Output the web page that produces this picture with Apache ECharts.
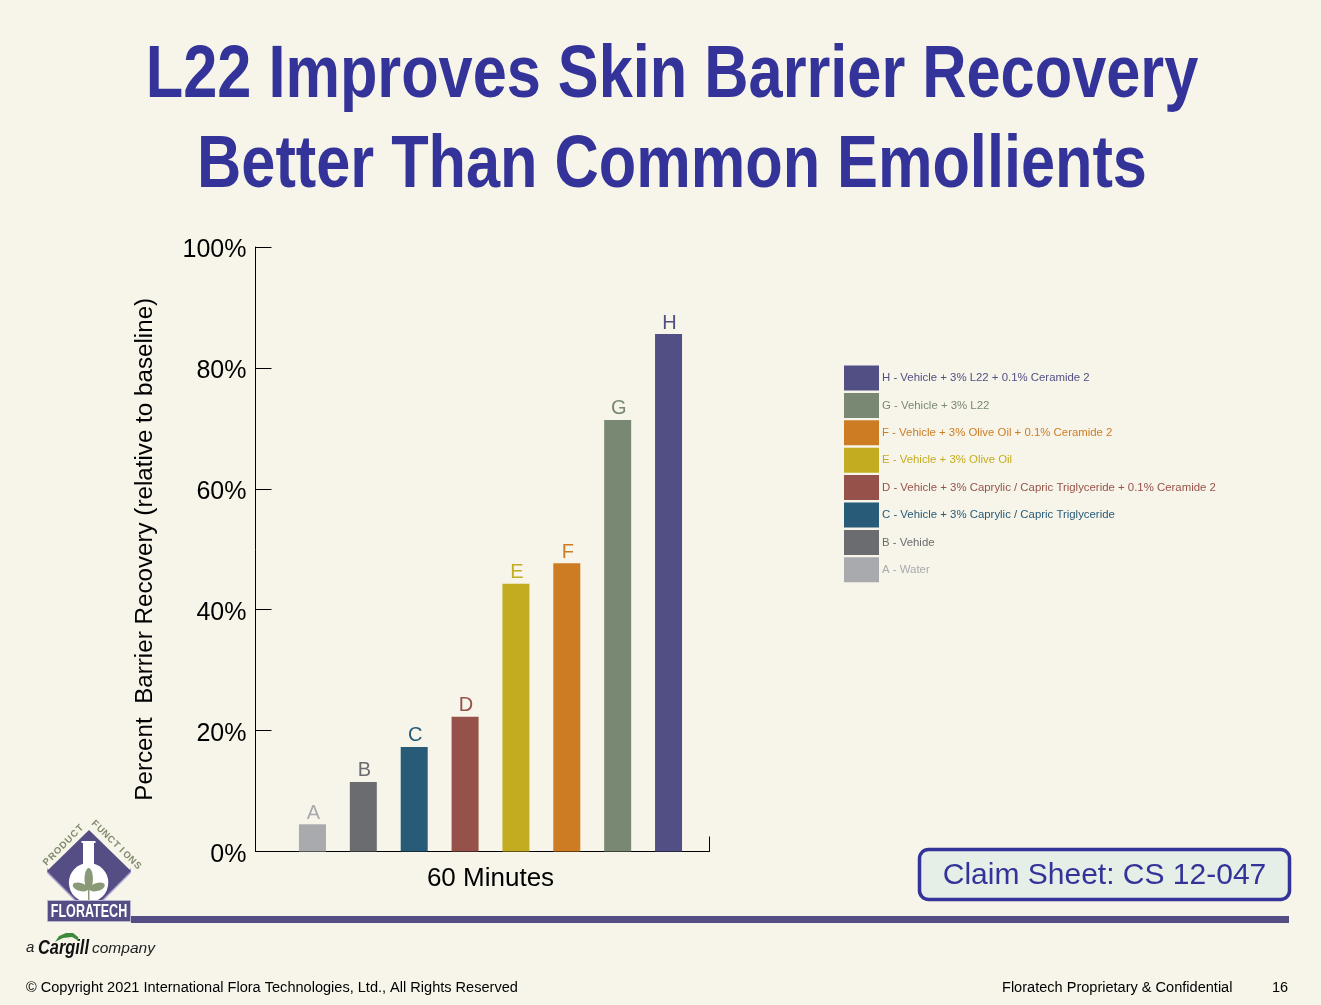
<!DOCTYPE html>
<html><head><meta charset="utf-8">
<style>html,body{margin:0;padding:0;background:#f7f5e9}#c{width:1321px;height:1005px}</style>
<script src="https://cdn.jsdelivr.net/npm/echarts@6/dist/echarts.min.js"></script>
</head><body><div id="c"></div>
<script>
const titleLines = ['L22 Improves Skin Barrier Recovery', 'Better Than Common Emollients'];
const categories = ['60 Minutes'];
const letters = ['A','B','C','D','E','F','G','H'];
const seriesNames = ['A - Water','B - Vehide','C - Vehicle + 3% Caprylic / Capric Triglyceride','D - Vehicle + 3% Caprylic / Capric Triglyceride + 0.1% Ceramide 2','E - Vehicle + 3% Olive Oil','F - Vehicle + 3% Olive Oil + 0.1% Ceramide 2','G - Vehicle + 3% L22','H - Vehicle + 3% L22 + 0.1% Ceramide 2'];
const values = [4.5, 11.5, 17.3, 22.3, 44.3, 47.7, 71.4, 85.6];
const colors = ['#a9aaad','#6b6c70','#275b78','#96524a','#c4ac20','#ce7c24','#788872','#524f85'];
const yTicks = {min:0,max:100,interval:20};
const FONT = '"Liberation Sans", Arial, sans-serif';
const chart = echarts.init(document.getElementById('c'));

const series = values.map((v,i)=>({
  type:'bar', name:seriesNames[i], xAxisIndex:1, yAxisIndex:1, data:[v],
  barWidth:27, barGap:'88.4%', itemStyle:{color:colors[i]}, silent:true,
  label:{show:true, position:'top', distance:1, offset:[1,0], formatter:letters[i], color:colors[i], fontSize:20, fontFamily:FONT}
}));

const g = [];
const txt=(x,y,s,o,sx)=>g.push({type:'text',x,y,scaleX:sx||1,silent:true,style:Object.assign({text:s,fontFamily:FONT,fill:'#000',textVerticalAlign:'middle'},o||{})});
// title
titleLines.forEach((t,i)=>txt(672,i===0?76:166,t,{fontSize:75,fontWeight:'bold',fill:'#333399',textAlign:'center'},0.817));
// rule and claim box
g.push({type:'rect',shape:{x:131,y:916,width:1158,height:7},style:{fill:'#544e84'},silent:true});
g.push({type:'rect',shape:{x:919.5,y:849.5,width:370,height:50,r:9},style:{fill:'#e6eee8',stroke:'#333399',lineWidth:3.5},silent:true});
txt(1104.5,876,'Claim Sheet: CS 12-047',{fontSize:30,fill:'#333399',textAlign:'center'});
// footer
txt(26,988,'© Copyright 2021 International Flora Technologies, Ltd., All Rights Reserved',{fontSize:14.55});
txt(1002,988,'Floratech Proprietary & Confidential',{fontSize:14.55});
txt(1272,988,'16',{fontSize:14.5});
// logo
g.push({type:'polygon',shape:{points:[[47,873],[75,901],[82,901],[47,868]]},style:{fill:'#a9a4cc'},silent:true});
g.push({type:'polygon',shape:{points:[[131,873],[103,901],[96,901],[131,868]]},style:{fill:'#a9a4cc'},silent:true});
g.push({type:'polygon',shape:{points:[[89,830],[131,871],[89,913],[47,871]]},style:{fill:'#544e84'},silent:true});
g.push({type:'circle',shape:{cx:88.6,cy:882.6,r:19.7},style:{fill:'#fff'},silent:true});
g.push({type:'rect',shape:{x:83,y:842,width:11,height:26},style:{fill:'#fff'},silent:true});
g.push({type:'rect',shape:{x:81.5,y:841,width:14,height:2},style:{fill:'#fff'},silent:true});
const leaf='#8a9a78';
g.push({type:'ellipse',shape:{cx:88.7,cy:879,rx:4.2,ry:11},style:{fill:leaf},silent:true});
g.push({type:'ellipse',shape:{cx:0,cy:0,rx:8,ry:4},x:80.5,y:887,rotation:-0.3,style:{fill:leaf},silent:true});
g.push({type:'ellipse',shape:{cx:0,cy:0,rx:8,ry:4},x:97,y:887,rotation:0.3,style:{fill:leaf},silent:true});
g.push({type:'rect',shape:{x:88,y:886,width:1.5,height:15},style:{fill:leaf},silent:true});
g.push({type:'rect',shape:{x:47.5,y:900.5,width:83,height:21},style:{fill:'#544e84',stroke:'#b9b7cf',lineWidth:1},silent:true});
txt(89,911.5,'FLORATECH',{fontSize:19,fill:'#fff',textAlign:'center',fontWeight:'bold'},0.66);
const arc=(s,x0,y0,dx,dy,rot)=>{[...s].forEach((c,i)=>g.push({type:'text',x:x0+dx*i,y:y0+dy*i,rotation:rot,silent:true,style:{text:c,fontFamily:FONT,fontWeight:'bold',fontSize:9.5,fill:'#7f8a6c',textAlign:'center',textVerticalAlign:'middle'}}));};
arc('PRODUCT',47,862,5.5,-5.6,Math.PI/4);
arc('FUNCTIONS',95,824,5.3,5.2,-Math.PI/4);
// Cargill
txt(26,948,'a',{fontSize:15,fontStyle:'italic',fill:'#222'});
txt(38,948,'Cargill',{fontSize:21,fontStyle:'italic',fontWeight:'bold',fill:'#111'},0.78);
txt(92,949,'company',{fontSize:15.5,fontStyle:'italic',fill:'#222'});
g.push({type:'polygon',shape:{points:[[55,942],[59,936],[66,933],[73,933],[78,937],[79,941],[72,937],[63,938]]},style:{fill:'#3d8a3d'},silent:true});

chart.setOption({
  animation:false,
  backgroundColor:'#f7f5e9',
  grid:[
    {left:255.5,top:247,width:454,height:604.5},
    {left:271.5,top:247,width:438,height:604.5}
  ],
  xAxis:[
    {gridIndex:0,type:'category',data:categories,
      axisLine:{lineStyle:{color:'#000',width:1}},
      axisTick:{show:true,interval:0,inside:true,length:15,lineStyle:{color:'#000'}},axisLabel:{show:false}},
    {gridIndex:1,type:'category',data:categories,axisLine:{show:false},axisTick:{show:false},
      axisLabel:{color:'#000',fontSize:26,fontFamily:FONT,margin:14}}
  ],
  yAxis:[
    {gridIndex:0,type:'value',min:yTicks.min,max:yTicks.max,interval:yTicks.interval,
      name:'Percent  Barrier Recovery (relative to baseline)',nameLocation:'middle',nameRotate:90,nameGap:98,
      nameTextStyle:{color:'#000',fontSize:24.2,fontFamily:FONT},
      splitLine:{show:false},
      axisLine:{show:true,lineStyle:{color:'#000',width:1}},
      axisTick:{show:true,inside:true,length:16,lineStyle:{color:'#000'}},
      axisLabel:{formatter:'{value}%',color:'#000',fontSize:25,fontFamily:FONT,margin:9,verticalAlign:'top',lineHeight:7}},
    {gridIndex:1,type:'value',min:yTicks.min,max:yTicks.max,interval:yTicks.interval,show:false,splitLine:{show:false}}
  ],
  legend:{
    left:844,top:365.5,orient:'vertical',itemWidth:35,itemHeight:25,itemGap:2.4,padding:0,icon:'rect',selectedMode:false,
    textStyle:{fontSize:11.4,fontFamily:FONT,padding:[0,0,0,-2]},
    data:seriesNames.map((n,i)=>({name:n,textStyle:{color:colors[i],fontSize:11.4,fontFamily:FONT,padding:[0,0,0,-2]}})).reverse()
  },
  series,
  graphic:{elements:g}
});
</script></body></html>
